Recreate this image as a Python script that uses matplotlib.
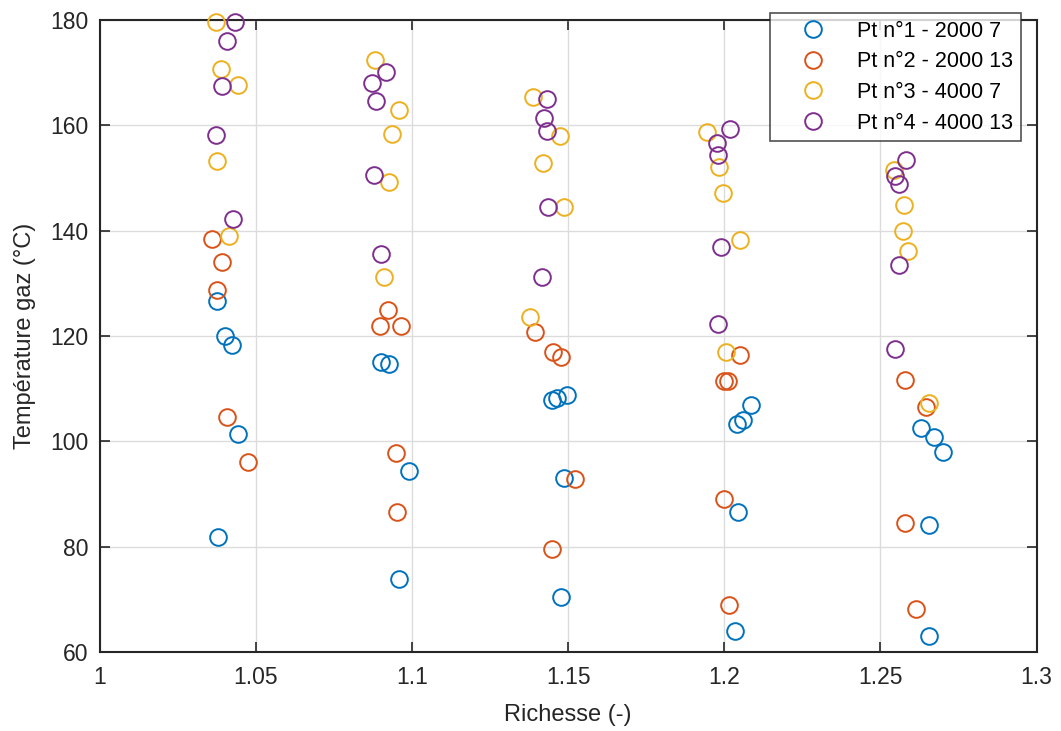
import numpy as np
import matplotlib.pyplot as plt

plt.rcParams['font.family'] = ['Liberation Sans', 'DejaVu Sans']

# Pt n°1 - 2000 7
x1 = [1.0375, 1.0402, 1.0425, 1.0442, 1.0380,
      1.0902, 1.0925, 1.0989, 1.0957,
      1.1447, 1.1465, 1.1497, 1.1487, 1.1478,
      1.2085, 1.2060, 1.2042, 1.2045, 1.2034,
      1.2629, 1.2670, 1.2699, 1.2655, 1.2655]
y1 = [126.6, 120.0, 118.3, 101.4, 81.9,
      115.1, 114.7, 94.3, 73.8,
      107.8, 108.3, 108.7, 93.1, 70.5,
      106.8, 104.0, 103.3, 86.6, 64.0,
      102.6, 100.8, 98.0, 84.1, 63.1]

# Pt n°2 - 2000 13
x2 = [1.0359, 1.0393, 1.0375, 1.0407, 1.0476,
      1.0922, 1.0899, 1.0966, 1.0949, 1.0953,
      1.1395, 1.1450, 1.1476, 1.1521, 1.1449,
      1.2049, 1.1999, 1.2013, 1.2000, 1.2016,
      1.2578, 1.2646, 1.2580, 1.2614]
y2 = [138.3, 134.1, 128.8, 104.6, 96.0,
      124.9, 121.8, 121.8, 97.7, 86.6,
      120.8, 116.9, 115.9, 92.9, 79.5,
      116.4, 111.5, 111.5, 89.0, 68.9,
      111.6, 106.5, 84.5, 68.1]

# Pt n°3 - 4000 7
x3 = [1.0372, 1.0389, 1.0442, 1.0377, 1.0415,
      1.0880, 1.0957, 1.0936, 1.0927, 1.0909,
      1.1388, 1.1475, 1.1420, 1.1488, 1.1377,
      1.1946, 1.1983, 1.1996, 1.2050, 1.2005,
      1.2542, 1.2575, 1.2572, 1.2588, 1.2655]
y3 = [179.5, 170.7, 167.7, 153.2, 139.0,
      172.3, 162.9, 158.4, 149.2, 131.1,
      165.3, 157.9, 152.9, 144.4, 123.5,
      158.6, 152.1, 147.2, 138.2, 116.9,
      151.4, 144.9, 139.9, 136.2, 107.3]

# Pt n°4 - 4000 13
x4 = [1.0434, 1.0406, 1.0393, 1.0372, 1.0428,
      1.0918, 1.0872, 1.0885, 1.0878, 1.0902,
      1.1433, 1.1424, 1.1433, 1.1436, 1.1417,
      1.2017, 1.1978, 1.1981, 1.1988, 1.1980,
      1.2582, 1.2545, 1.2559, 1.2558, 1.2548]
y4 = [179.5, 176.0, 167.5, 158.2, 142.2,
      170.0, 168.0, 164.5, 150.5, 135.5,
      164.9, 161.3, 158.9, 144.5, 131.2,
      159.2, 156.6, 154.4, 136.9, 122.2,
      153.3, 150.4, 148.8, 133.5, 117.6]

labels = ['Pt n°1 - 2000 7', 'Pt n°2 - 2000 13', 'Pt n°3 - 4000 7', 'Pt n°4 - 4000 13']
colors = ['#0072BD', '#D95319', '#EDB120', '#7E2F8E']

fig = plt.figure(figsize=(10.61, 7.31), dpi=100)
ax = fig.add_axes([0.094, 0.108, 0.883, 0.865])

for xs, ys, lab, c in zip([x1, x2, x3, x4], [y1, y2, y3, y4], labels, colors):
    ax.plot(xs, ys, 'o', mfc='none', mec=c, ms=12, mew=1.4, label=lab,
            clip_on=False, zorder=3)

ax.set_xlim(1, 1.3)
ax.set_ylim(60, 180)
ax.set_xticks(np.arange(1, 1.31, 0.05))
ax.set_xticklabels(['1', '1.05', '1.1', '1.15', '1.2', '1.25', '1.3'])
ax.set_yticks(np.arange(60, 181, 20))
ax.grid(True, color='#dcdcdc', lw=1)
ax.set_axisbelow(True)
ax.tick_params(direction='in', top=True, right=True, length=7, width=1.2,
               labelsize=16.5, colors='#262626')
ax.tick_params(axis='x', pad=10)
ax.tick_params(axis='y', pad=8)
for s in ax.spines.values():
    s.set_linewidth(1.5)
    s.set_color('#262626')

ax.set_xlabel('Richesse (-)', fontsize=17, color='#262626', labelpad=11)
ax.set_ylabel('Température gaz (°C)', fontsize=17, color='#262626', labelpad=10)

leg = ax.legend(loc='upper right', bbox_to_anchor=(1021 / 1061, 1 - 13 / 731),
                bbox_transform=fig.transFigure, fontsize=15.5, frameon=True,
                fancybox=False, edgecolor='#262626', borderaxespad=0,
                handlelength=3.3, handletextpad=0.4, borderpad=0.35,
                labelspacing=0.45)
leg.get_frame().set_linewidth(1.2)
leg.set_zorder(5)

fig.savefig('out.png', dpi=100)
